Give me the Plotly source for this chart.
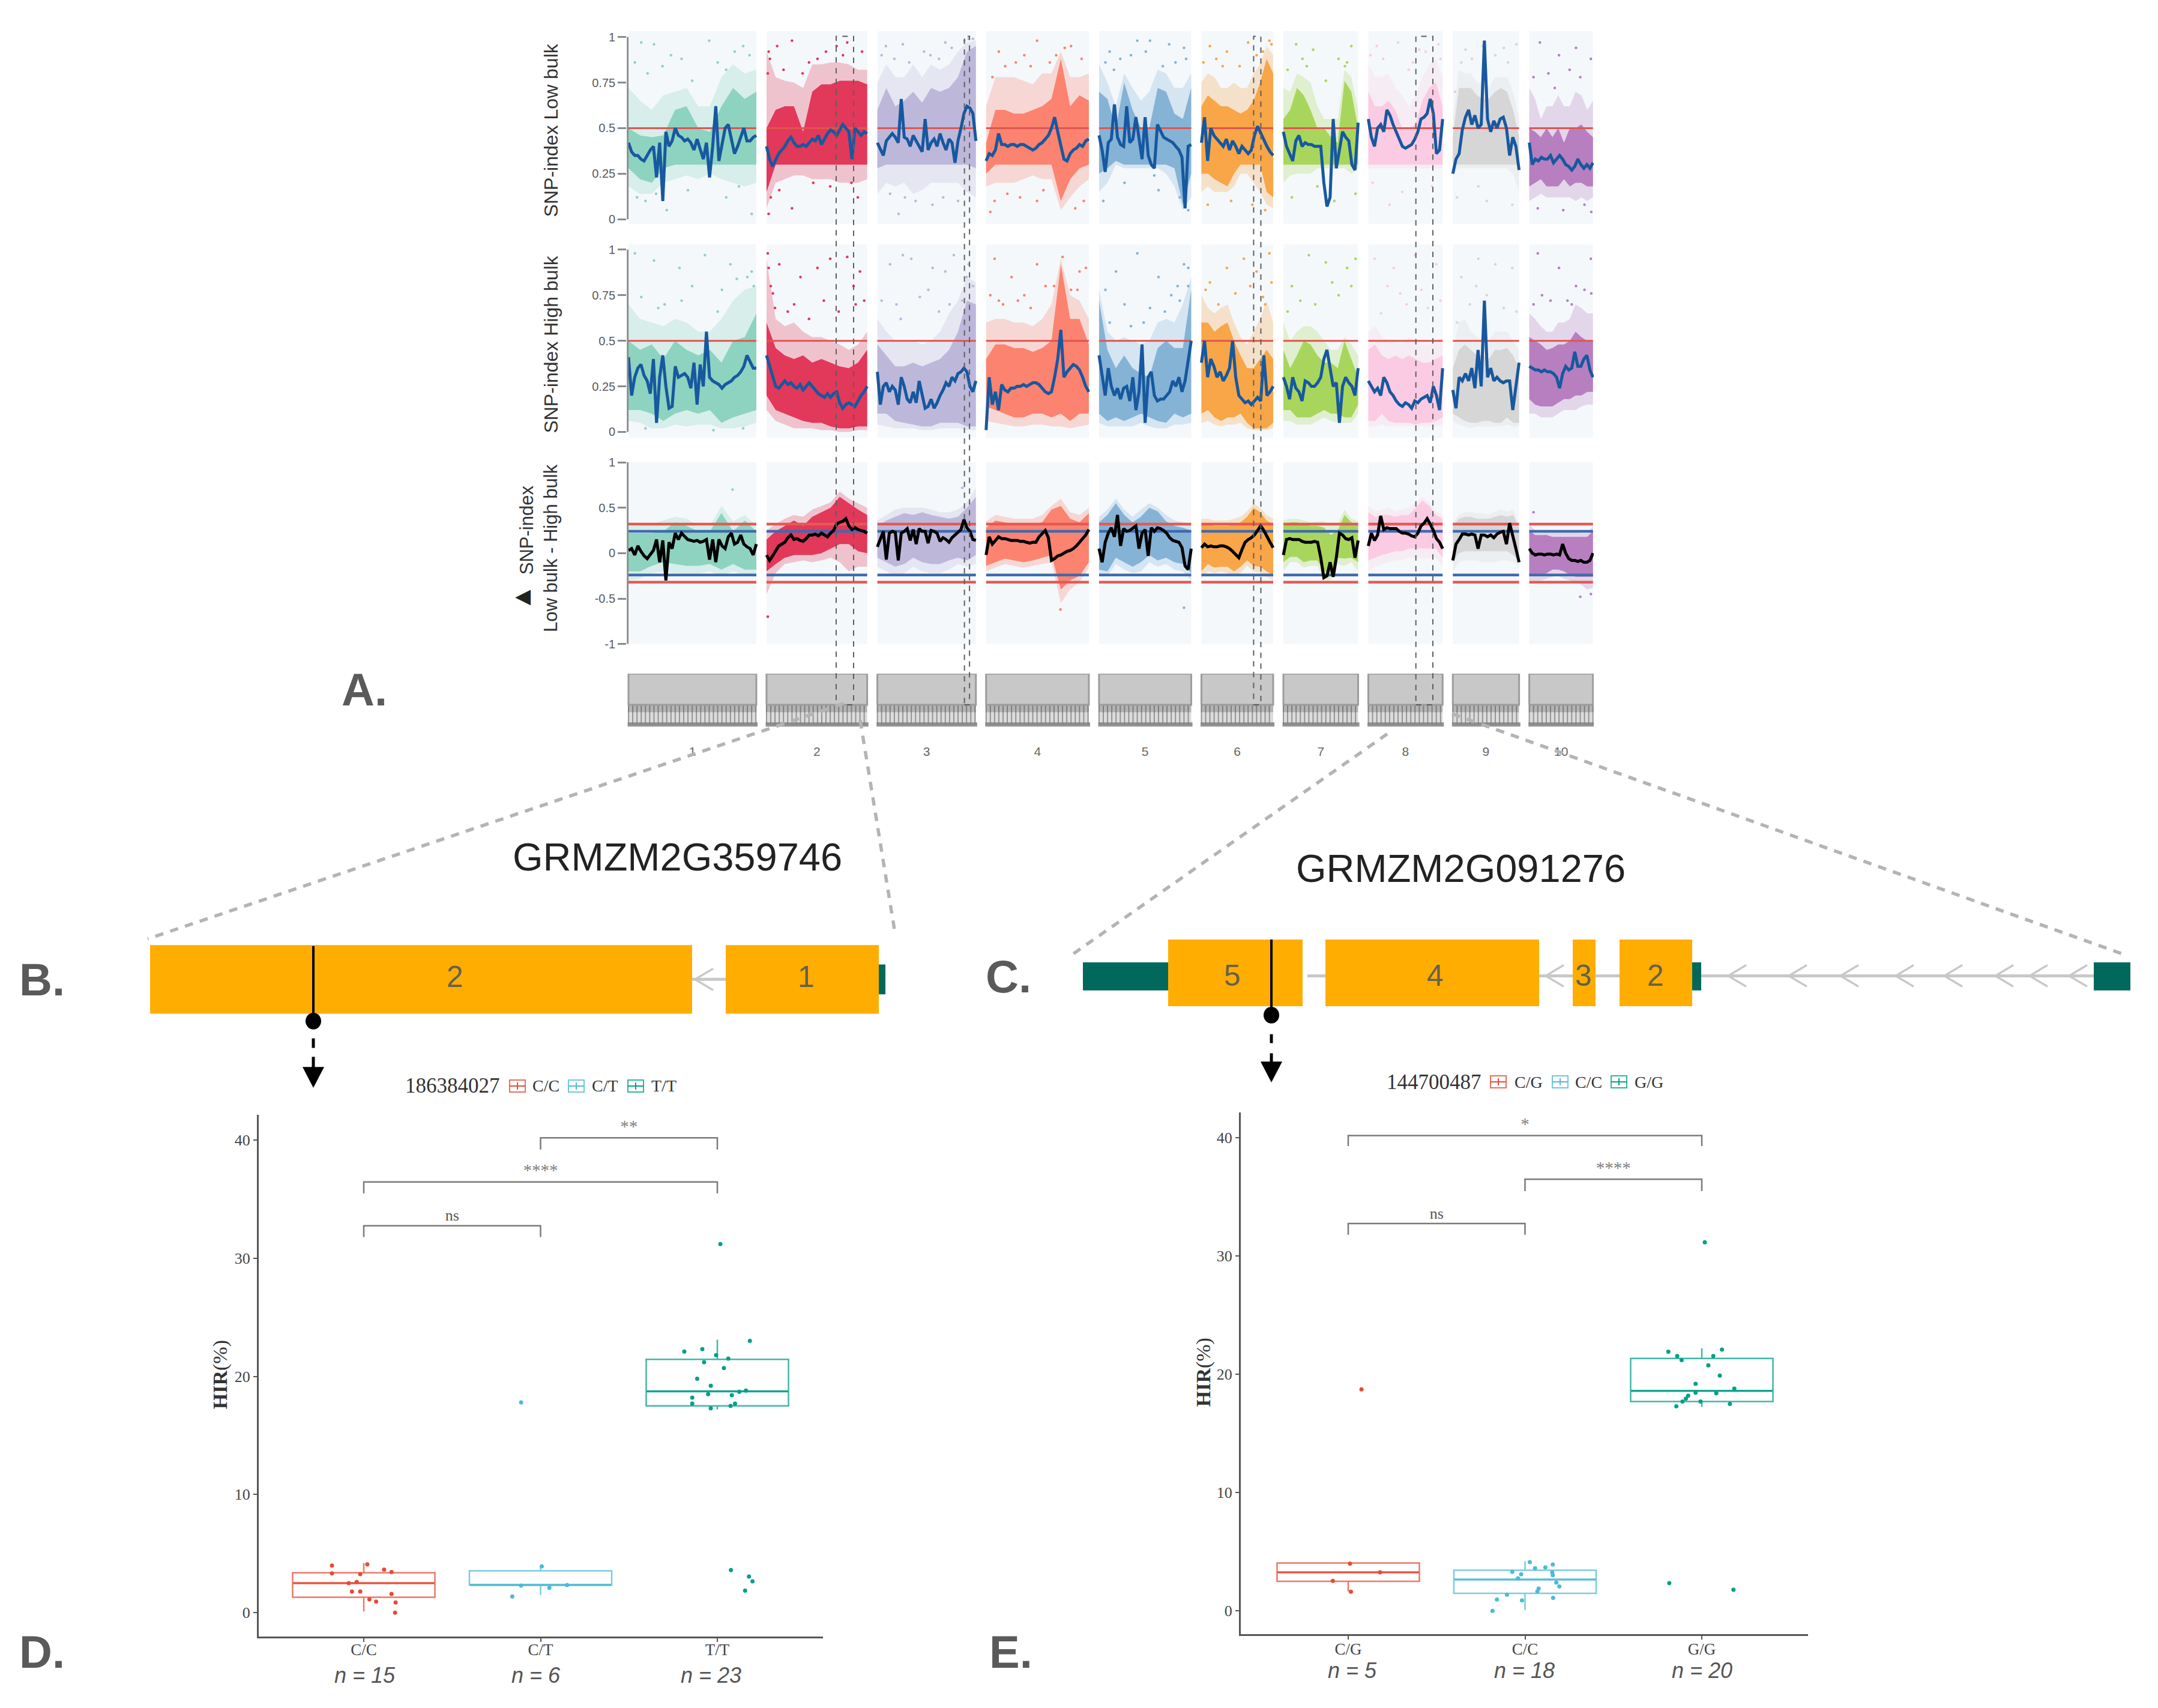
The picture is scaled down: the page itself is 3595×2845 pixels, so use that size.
import numpy as np
import plotly.graph_objects as go

W, H = 3595, 2845
chrom_names = ["1", "2", "3", "4", "5", "6", "7", "8", "9", "10"]
chrom_len = [301, 237, 232, 242, 217, 169, 176, 175, 156, 150]
chrom_color = ["#8DD3C0", "#E2385A", "#BDB8DA", "#FB8370", "#85B3D6", "#F8A648", "#A8D65C", "#FBCBE3", "#D6D6D6", "#B77FC0"]
marked_regions = [(1, 164, 205), (2, 205, 217), (5, 123, 140), (7, 112, 152)]

low_line = [
 [.42,.37,.35,.35,.33,.32,.35,.38,.40,.23,.42,.10,.48,.40,.43,.50,.46,.45,.43,.44,.42,.38,.44,.38,.33,.42,.23,.40,.62,.32,.42,.50,.52,.44,.36,.40,.45,.50,.43,.43,.45,.46],
 [.40,.33,.29,.33,.36,.38,.40,.43,.45,.42,.40,.40,.41,.40,.42,.44,.43,.46,.41,.44,.47,.49,.48,.46,.49,.52,.50,.48,.33,.50,.48,.46,.48,.47],
 [.42,.38,.35,.43,.45,.47,.45,.42,.66,.45,.44,.40,.46,.43,.40,.37,.55,.38,.42,.44,.40,.47,.42,.38,.44,.42,.31,.43,.50,.58,.62,.61,.58,.43],
 [.32,.36,.35,.38,.47,.41,.41,.40,.41,.41,.40,.41,.41,.40,.39,.38,.39,.41,.42,.44,.46,.50,.56,.48,.40,.33,.32,.36,.38,.39,.41,.40,.43,.44],
 [.46,.38,.26,.42,.44,.63,.45,.41,.40,.62,.42,.44,.56,.45,.33,.56,.35,.30,.28,.52,.48,.45,.44,.43,.42,.40,.38,.34,.06,.40,.41],
 [.42,.56,.32,.50,.46,.44,.42,.40,.44,.38,.43,.40,.36,.40,.38,.36,.38,.46,.51,.47,.43,.40,.37,.35],
 [.48,.40,.36,.32,.43,.46,.40,.42,.41,.41,.40,.40,.40,.20,.07,.12,.55,.28,.38,.48,.45,.43,.30,.27,.53],
 [.55,.45,.40,.50,.52,.48,.60,.57,.52,.48,.44,.40,.39,.40,.41,.44,.48,.55,.56,.58,.66,.58,.36,.38,.55],
 [.25,.33,.36,.49,.56,.60,.52,.57,.50,.52,.98,.55,.48,.54,.50,.55,.56,.50,.35,.45,.40,.27],
 [.42,.30,.33,.32,.34,.33,.33,.35,.31,.33,.35,.33,.30,.29,.27,.29,.33,.30,.28,.30,.28,.31],
]
high_line = [
 [.41,.20,.30,.35,.37,.31,.28,.21,.40,.05,.30,.42,.25,.13,.14,.36,.30,.31,.32,.30,.24,.38,.15,.37,.25,.55,.30,.28,.27,.26,.24,.26,.27,.28,.30,.31,.33,.36,.42,.38,.35,.35],
 [.42,.36,.30,.25,.24,.26,.28,.26,.27,.25,.24,.26,.23,.25,.27,.25,.23,.21,.20,.19,.21,.19,.21,.22,.16,.13,.15,.16,.15,.14,.17,.20,.22,.25],
 [.33,.15,.25,.27,.22,.25,.23,.15,.30,.25,.18,.16,.22,.16,.28,.20,.13,.14,.18,.13,.16,.20,.23,.27,.25,.30,.28,.32,.33,.35,.33,.25,.22,.28],
 [.01,.30,.15,.22,.12,.26,.23,.22,.24,.24,.25,.25,.26,.25,.26,.27,.27,.26,.24,.22,.21,.22,.30,.40,.56,.30,.33,.35,.37,.36,.34,.30,.25,.22],
 [.42,.30,.20,.35,.25,.20,.24,.18,.24,.25,.17,.30,.12,.22,.48,.05,.30,.33,.20,.17,.18,.18,.20,.22,.28,.25,.30,.22,.28,.40,.50],
 [.38,.50,.30,.40,.36,.30,.33,.28,.31,.35,.50,.30,.20,.18,.16,.17,.15,.17,.19,.17,.42,.20,.22,.25],
 [.30,.25,.18,.30,.24,.22,.17,.28,.27,.25,.25,.27,.30,.40,.45,.35,.25,.27,.05,.25,.30,.27,.25,.20,.35],
 [.28,.25,.22,.24,.20,.30,.27,.22,.20,.17,.15,.14,.16,.15,.13,.17,.16,.18,.19,.20,.16,.25,.20,.12,.35],
 [.23,.13,.30,.28,.32,.28,.35,.24,.45,.25,.72,.30,.35,.28,.30,.28,.27,.28,.28,.12,.25,.38],
 [.36,.35,.34,.34,.33,.34,.33,.33,.32,.30,.24,.32,.36,.34,.35,.44,.36,.36,.40,.42,.34,.30],
]
delta_line = [
 [.03,.05,-.02,.08,.02,-.03,-.06,-.02,.03,.15,-.10,.14,-.30,.12,.05,.22,.15,.22,.18,.15,.14,.13,.14,.12,.13,.15,-.07,.15,-.10,.15,.08,.05,.18,.22,.10,.12,.20,.10,.07,.05,-.02,.10],
 [-.02,-.08,-.03,.03,.08,.10,.12,.17,.20,.15,.16,.14,.13,.16,.20,.20,.21,.19,.22,.20,.18,.22,.25,.32,.34,.35,.38,.30,.26,.28,.26,.25,.24,.22],
 [.07,.15,.24,-.07,.22,.24,.23,-.08,.22,.24,.27,.14,.26,.10,.27,.24,.24,.11,.25,.24,.22,.13,.17,.15,.12,.17,.20,.23,.26,.37,.28,.24,.15,.14],
 [-.02,.18,.10,.14,.18,.16,.16,.15,.14,.14,.14,.13,.13,.12,.11,.12,.12,.18,.22,.25,.17,-.08,-.06,-.03,-.02,.00,.02,.03,.05,.08,.12,.15,.20,.26],
 [.05,-.10,.12,.22,.28,.18,.42,.08,.27,.24,.25,.28,.30,.05,.22,.26,-.03,.28,.24,.28,.27,.25,.22,.17,.14,.13,.12,.06,-.14,-.18,.05],
 [.06,.10,.07,.08,.07,.07,.08,.08,.07,.05,.02,-.02,-.05,.04,.12,.15,.17,.20,.25,.30,.25,.18,.12,.06],
 [-.02,.15,.16,.15,.15,.15,.13,.12,.12,.12,.13,.12,-.05,-.27,-.25,-.10,-.26,-.05,.22,.20,.16,.15,.17,-.05,.14],
 [.08,.22,.14,.20,.41,.26,.28,.27,.27,.27,.24,.22,.22,.21,.19,.18,.22,.30,.33,.38,.32,.25,.16,.12,.05],
 [-.08,.10,.15,.21,.21,.20,.21,.20,.05,.20,.20,.18,.20,.17,.21,.23,.24,.10,.33,.20,.05,-.10],
 [.05,.00,-.02,-.01,-.01,-.02,-.01,-.01,-.02,-.01,-.02,.10,.00,-.06,-.08,-.08,-.09,-.08,-.10,-.10,-.08,.00],
]

low_core_top = [[.50,.46,.45,.46,.60,.62,.50,.48,.62,.72,.66,.70],[.50,.60,.62,.62,.48,.70,.74,.74,.76,.76,.76,.74],[.60,.72,.62,.65,.70,.64,.72,.70,.72,.78,.92,.95],[.42,.60,.60,.58,.58,.60,.62,.66,.88,.62,.68,.65],[.70,.66,.50,.75,.60,.50,.50,.72,.70,.58,.55,.72],[.62,.68,.65,.62,.62,.60,.58,.60,.65,.75,.88,.80],[.55,.60,.72,.68,.60,.50,.50,.45,.42,.76,.70,.50],[.70,.62,.62,.65,.60,.50,.50,.52,.65,.72,.75,.62],[.45,.72,.72,.72,.68,.66,.66,.70,.72,.70,.60,.45],[.50,.48,.45,.50,.45,.50,.42,.50,.50,.52,.48,.45]]
low_core_bot = [[.28,.22,.20,.28,.30,.30,.30,.30,.30,.30,.30,.30],[.15,.30,.30,.30,.30,.30,.30,.30,.30,.30,.30,.30],[.28,.30,.30,.30,.30,.30,.30,.30,.30,.30,.30,.28],[.25,.30,.30,.30,.30,.30,.30,.30,.10,.22,.28,.30],[.25,.28,.32,.30,.30,.30,.30,.30,.30,.28,.08,.25],[.25,.25,.22,.20,.18,.25,.30,.30,.30,.30,.15,.12],[.30,.30,.30,.30,.30,.30,.30,.30,.30,.30,.30,.30],[.30,.30,.30,.30,.30,.30,.30,.30,.30,.30,.30,.30],[.30,.30,.30,.30,.30,.30,.30,.30,.30,.30,.30,.30],[.18,.20,.22,.18,.18,.18,.22,.18,.20,.20,.18,.18]]
low_halo_top = [[.72,.65,.60,.68,.70,.72,.62,.62,.78,.85,.80,.82],[.92,.78,.76,.75,.72,.85,.85,.86,.86,.85,.82,.82],[.75,.85,.78,.78,.85,.78,.85,.82,.85,.92,.97,.98],[.62,.78,.78,.78,.76,.74,.80,.80,.92,.78,.78,.80],[.85,.75,.62,.80,.72,.65,.70,.82,.80,.72,.72,.80],[.75,.80,.78,.72,.72,.75,.72,.72,.80,.85,.95,.90],[.72,.70,.80,.78,.75,.62,.55,.55,.55,.82,.78,.60],[.85,.78,.78,.80,.72,.68,.62,.68,.78,.85,.88,.78],[.55,.82,.80,.80,.75,.75,.72,.78,.78,.78,.70,.55],[.72,.66,.55,.62,.62,.68,.62,.62,.70,.68,.60,.65]]
low_halo_bot = [[.18,.14,.14,.20,.22,.24,.22,.25,.22,.20,.18,.20],[.06,.20,.22,.24,.24,.22,.22,.22,.20,.20,.20,.22],[.14,.20,.18,.20,.14,.16,.20,.20,.20,.20,.15,.12],[.18,.20,.20,.20,.22,.24,.22,.22,.05,.12,.18,.22],[.15,.20,.30,.28,.28,.28,.28,.28,.25,.18,.05,.12],[.15,.18,.15,.15,.15,.18,.25,.25,.20,.15,.08,.06],[.20,.24,.25,.25,.25,.28,.28,.28,.28,.28,.25,.28],[.28,.28,.28,.28,.28,.28,.28,.28,.28,.28,.28,.28],[.25,.28,.28,.28,.28,.28,.28,.28,.28,.28,.25,.15],[.10,.12,.14,.12,.12,.12,.12,.12,.10,.12,.10,.12]]

high_core_top = [[.50,.45,.48,.40,.50,.45,.42,.45,.38,.50,.52,.65],[.60,.46,.42,.40,.42,.38,.40,.38,.36,.35,.38,.45],[.48,.42,.36,.36,.38,.36,.38,.40,.45,.55,.72,.70],[.40,.48,.48,.46,.46,.44,.46,.50,.92,.62,.62,.48],[.72,.45,.35,.42,.35,.32,.30,.46,.50,.46,.46,.78],[.60,.60,.55,.58,.60,.50,.42,.35,.35,.40,.45,.40],[.45,.35,.42,.50,.48,.42,.38,.38,.35,.50,.40,.30],[.45,.48,.42,.40,.42,.40,.42,.40,.38,.38,.40,.42],[.35,.45,.48,.45,.42,.42,.40,.45,.45,.46,.42,.35],[.52,.50,.48,.45,.46,.48,.48,.50,.55,.52,.50,.50]]
high_core_bot = [[.12,.12,.10,.06,.10,.12,.10,.12,.05,.08,.10,.12],[.20,.12,.10,.08,.06,.05,.05,.03,.02,.02,.03,.03],[.10,.10,.06,.05,.04,.03,.03,.05,.05,.05,.03,.03],[.14,.12,.10,.08,.08,.10,.10,.08,.10,.06,.10,.10],[.10,.06,.08,.06,.08,.10,.08,.06,.05,.10,.08,.10],[.10,.12,.08,.06,.08,.08,.10,.05,.02,.02,.02,.05],[.12,.12,.08,.08,.08,.10,.12,.10,.10,.08,.08,.15],[.06,.06,.10,.06,.05,.05,.05,.04,.05,.05,.06,.08],[.10,.08,.06,.05,.05,.06,.06,.05,.05,.08,.05,.05],[.18,.15,.14,.14,.14,.16,.18,.18,.20,.20,.22,.22]]
high_halo_top = [[.70,.62,.60,.58,.62,.60,.55,.55,.62,.72,.78,.80],[.95,.62,.58,.60,.55,.52,.52,.50,.48,.45,.48,.55],[.62,.55,.50,.50,.50,.48,.50,.55,.65,.72,.85,.82],[.60,.62,.62,.60,.60,.58,.62,.70,.95,.75,.72,.62],[.78,.55,.50,.52,.50,.48,.50,.60,.62,.60,.70,.85],[.75,.68,.65,.68,.70,.60,.52,.48,.55,.62,.72,.60],[.60,.50,.55,.58,.58,.55,.50,.45,.45,.52,.48,.42],[.55,.58,.52,.50,.50,.48,.52,.50,.48,.48,.50,.52],[.45,.60,.62,.55,.52,.50,.50,.55,.55,.55,.50,.45],[.65,.62,.58,.55,.55,.60,.60,.62,.70,.68,.65,.65]]
high_halo_bot = [[.06,.05,.02,.02,.04,.03,.04,.04,.02,.02,.03,.05],[.12,.06,.04,.02,.02,.02,.01,.01,.00,.00,.01,.01],[.04,.03,.02,.02,.02,.01,.01,.02,.02,.02,.01,.01],[.06,.05,.04,.03,.03,.04,.04,.03,.03,.02,.03,.04],[.05,.03,.03,.03,.03,.05,.03,.02,.02,.04,.04,.05],[.05,.06,.04,.03,.04,.04,.05,.02,.01,.01,.01,.02],[.06,.06,.04,.04,.04,.06,.08,.06,.05,.05,.05,.10],[.03,.03,.04,.03,.03,.03,.03,.03,.03,.03,.03,.04],[.06,.04,.03,.02,.03,.03,.03,.03,.03,.04,.03,.03],[.10,.10,.08,.08,.08,.10,.12,.12,.12,.14,.15,.15]]

delta_core_top = [[.22,.22,.22,.24,.34,.30,.24,.24,.44,.24,.36,.24],[.15,.24,.30,.36,.30,.40,.45,.50,.62,.55,.48,.42],[.30,.36,.40,.44,.42,.45,.42,.40,.38,.40,.50,.62],[.28,.36,.34,.32,.32,.32,.34,.48,.52,.38,.34,.44],[.34,.42,.55,.42,.34,.40,.50,.46,.35,.30,.28,.25],[.32,.32,.30,.30,.30,.32,.34,.40,.50,.45,.36,.32],[.30,.34,.34,.32,.30,.30,.28,.20,.25,.42,.34,.30],[.45,.40,.42,.42,.40,.42,.42,.50,.58,.52,.42,.38],[.30,.38,.40,.40,.38,.38,.38,.40,.42,.40,.42,.28],[.25,.20,.20,.20,.18,.18,.18,.18,.18,.18,.18,.24]]
delta_core_bot = [[-.20,-.20,-.14,-.10,-.12,-.14,-.14,-.12,-.18,-.12,-.18,-.18],[-.20,-.12,-.05,-.02,-.02,-.02,.00,.05,.10,.10,.02,.00],[-.05,-.10,-.15,-.12,-.05,-.10,-.12,-.12,-.08,-.05,-.08,-.02],[-.14,-.10,-.06,-.08,-.10,-.08,-.05,-.02,-.40,-.30,-.25,-.10],[-.18,-.20,-.05,-.10,-.15,-.10,-.02,-.08,-.05,-.10,-.12,-.22],[-.20,-.12,-.16,-.15,-.15,-.20,-.15,-.08,-.14,-.15,-.20,-.24],[-.10,-.04,-.04,-.10,-.08,-.08,-.20,-.22,-.05,-.06,-.05,-.10],[-.08,-.05,-.02,.00,.02,.02,.05,.05,.05,.05,.05,-.05],[-.10,.00,.02,.02,.02,.02,.02,.02,.02,.02,-.02,-.08],[-.25,-.24,-.24,-.22,-.18,-.18,-.20,-.24,-.26,-.26,-.26,-.26]]
delta_halo_top = [[.30,.30,.32,.36,.40,.38,.30,.30,.52,.35,.42,.30],[.25,.32,.38,.42,.40,.48,.52,.56,.68,.60,.55,.50],[.36,.42,.48,.50,.50,.50,.48,.45,.45,.48,.56,.72],[.35,.42,.40,.38,.38,.38,.42,.52,.60,.45,.42,.50],[.40,.48,.60,.48,.40,.48,.55,.50,.42,.36,.34,.32],[.38,.38,.36,.36,.36,.38,.40,.46,.55,.50,.42,.38],[.36,.38,.38,.36,.34,.35,.35,.30,.32,.48,.38,.35],[.52,.46,.48,.50,.46,.48,.50,.56,.62,.56,.46,.42],[.34,.42,.45,.45,.44,.44,.42,.46,.48,.46,.48,.32],[.32,.25,.25,.25,.24,.24,.24,.25,.25,.22,.22,.30]]
delta_halo_bot = [[-.30,-.28,-.22,-.20,-.22,-.22,-.22,-.20,-.25,-.20,-.25,-.25],[-.45,-.22,-.12,-.10,-.08,-.10,-.08,-.05,-.10,-.20,-.15,-.15],[-.15,-.20,-.25,-.22,-.15,-.20,-.22,-.22,-.18,-.12,-.15,-.12],[-.20,-.16,-.12,-.14,-.16,-.14,-.12,-.10,-.55,-.40,-.32,-.16],[-.25,-.25,-.12,-.18,-.22,-.20,-.10,-.15,-.12,-.18,-.20,-.30],[-.28,-.20,-.22,-.20,-.22,-.26,-.22,-.14,-.20,-.22,-.26,-.30],[-.20,-.10,-.10,-.16,-.14,-.14,-.30,-.30,-.12,-.14,-.10,-.20],[-.20,-.15,-.12,-.10,-.08,-.08,-.05,-.05,-.06,-.06,-.05,-.15],[-.20,-.10,-.08,-.08,-.08,-.10,-.10,-.10,-.08,-.08,-.10,-.15],[-.30,-.30,-.30,-.28,-.26,-.25,-.28,-.30,-.32,-.35,-.40,-.38]]

low_dot_pos = [[30,60,100,190,230,270,40,90,230,290,15,45,80,125,150,210,250,285,20,65,140,260],[5,60,120,190,10,60,200,215,150,5,25,40,85,100,140,165,180,225,30,110,3,8],[20,60,110,160,30,90,130,190,215,50,10,40,75,125,145,175,205,225,65,155],[30,70,120,200,20,50,120,210,10,230,15,45,90,105,150,165,185,225,80,135],[25,120,165,200,10,60,190,140,90,210,15,35,50,75,110,150,180,205,130],[20,60,110,160,15,70,120,150,5,35,50,90,130,145,165],[30,70,130,160,20,80,120,170,10,45,55,100,145,150],[20,70,120,165,10,80,150,50,5,35,95,105,135,170],[30,70,120,150,10,80,140,60,20,45,100,130,5],[25,70,110,145,20,80,130,146,10,45,60,95,120]]
low_dot_val = [[.97,.96,.9,.98,.82,.95,.1,.05,.12,.03,.86,.8,.84,.88,.76,.86,.92,.9,.12,.14,.16,.18],[.92,.98,.88,.97,.12,.06,.2,.12,.18,.03,.95,.82,.8,.86,.92,.95,.9,.92,.16,.2,.8,.88],[.95,.96,.92,.97,.14,.1,.08,.1,.99,.03,.9,.88,.86,.9,.88,.94,.98,.99,.12,.12],[.92,.86,.98,.95,.1,.14,.1,.06,.04,.1,.78,.84,.9,.84,.86,.9,.94,.88,.12,.16],[.92,.98,.96,.94,.1,.2,.12,.16,.98,.05,.86,.82,.88,.9,.92,.84,.86,.88,.24],[.95,.92,.97,.98,.08,.1,.08,.05,.86,.88,.84,.84,.9,.92,.96],[.96,.93,.88,.95,.12,.18,.1,.14,.82,.88,.84,.76,.84,.86],[.95,.97,.93,.96,.2,.15,.18,.08,.9,.88,.82,.86,.92,.88],[.93,.95,.94,.96,.12,.1,.08,.18,.86,.88,.9,.86,.7],[.97,.9,.94,.88,.06,.05,.08,.04,.78,.8,.72,.82,.78]]
high_dot_pos = [[15,60,120,180,240,280,40,200,270,295,30,85,150,220,255,290,70,125,210],[3,30,80,150,190,220,5,10,120,210,15,50,65,100,135,170,205,230,20],[30,80,130,180,210,225,60,160,215,120,10,45,100,145,200,55,170],[20,60,120,180,220,235,90,160,200,10,40,75,105,140,175,215,30],[40,90,140,170,200,210,15,120,60,190,25,105,155,185,75,210],[20,60,100,130,160,40,150,10,80,115,145,165],[20,60,100,150,170,130,40,10,75,115,160],[15,60,110,160,30,90,140,45,75,125,170],[20,60,100,140,40,120,80,10,55,150],[20,70,110,145,30,90,130,10,50,100,146]]
high_dot_val = [[.98,.94,.9,.97,.92,.85,.02,.01,.02,.8,.74,.7,.8,.78,.84,.88,.68,.72,.66],[.98,.92,.85,.95,.96,.88,.9,.8,.9,.7,.76,.66,.7,.62,.72,.66,.8,.72,.68],[.92,.95,.9,.97,.85,.8,.97,.88,.92,.78,.72,.7,.74,.66,.72,.62,.7],[.95,.85,.92,.96,.88,.9,.75,.8,.78,.75,.7,.72,.68,.8,.76,.78,.72],[.88,.98,.85,.75,.92,.9,.78,.68,.7,.72,.6,.6,.66,.8,.58,.8],[.82,.9,.95,.88,.98,.7,.7,.78,.76,.8,.74,.82],[.8,.97,.93,.9,.95,.75,.72,.66,.7,.82,.8],[.95,.9,.97,.92,.65,.7,.68,.8,.76,.78,.72],[.85,.95,.92,.9,.7,.68,.75,.6,.8,.66],[.98,.9,.8,.95,.75,.72,.78,.7,.72,.7,.76]]
delta_dot_pos = [[245],[3],[200],[175],[200],[],[],[],[],[10,120,145]]
delta_dot_val = [[.7],[-.7],[.72],[-.62],[-.6],[],[],[],[],[.45,-.48,-.45]]

mid_line = 0.5
thresholds = [(.32, "#E35A55"), (.24, "#3F6AAE"), (-.24, "#3F6AAE"), (-.32, "#E35A55")]

gene_b_cds_start, gene_b_cds_end = [0, 959], [903, 1214]
gene_b_utr_start, gene_b_utr_end = [1211], [1225]
gene_b_intron = [(903, 959)]
gene_b_chevrons = [908]
gene_b_labels, gene_b_label_pos = ["2", "1"], [508, 1093]

gene_c_cds_start, gene_c_cds_end = [142, 404, 816, 894], [366, 760, 854, 1015]
gene_c_utr_start, gene_c_utr_end = [0, 1015, 1684], [142, 1030, 1745]
gene_c_intron = [(374, 404), (760, 816), (854, 894), (1030, 1684)]
gene_c_chevrons = [771, 1075, 1176, 1262, 1354, 1435, 1520, 1577, 1643]
gene_c_labels, gene_c_label_pos = ["5", "4", "3", "2"], [249, 587, 834, 954]

npg = ["#E64B35", "#4DBBD5", "#00A087"]
d_cats = ["C/C", "C/T", "T/T"]
d_counts = ["n = 15", "n = 6", "n = 23"]
d_q1, d_med, d_q3 = [1.3, 2.33, 17.5], [2.5, 2.33, 18.73], [3.37, 3.54, 21.44]
d_low, d_high = [0.1, 1.5, 17.2], [4.2, 4.0, 23.1]
d_x = [[-.18,-.18,.02,-.02,-.04,-.085,.115,.157,-.067,-.02,.157,.032,.07,.18,.177],
       [-.11,.007,-.11,.05,.15,-.16],
       [.017,.184,-.187,-.085,-.007,.062,-.075,.037,-.114,-.037,-.142,-.052,.082,.162,.124,-.142,.1,-.037,.075,.077,.179,.199,.157]]
d_y = [[3.99,3.33,4.09,3.26,2.6,2.5,3.64,3.44,1.79,1.79,1.58,1.13,.93,.86,0],
       [17.8,3.92,2.3,2.1,2.33,1.37],
       [31.2,23.0,22.1,22.3,21.8,21.5,21.2,20.7,19.8,19.2,18.2,18.5,18.4,18.8,18.7,17.7,17.7,17.3,17.5,3.6,3.06,2.65,1.86]]
d_brackets = [(0, 1, 32.75, 31.8, "ns"), (0, 2, 36.46, 35.5, "****"), (1, 2, 40.2, 39.2, "**")]

e_cats = ["C/G", "C/C", "G/G"]
e_counts = ["n = 5", "n = 18", "n = 20"]
e_q1, e_med, e_q3 = [2.5, 1.48, 17.7], [3.26, 2.65, 18.6], [4.05, 3.44, 21.34]
e_low, e_high = [1.65, 0.07, 17.25], [4.05, 4.2, 22.2]
e_x = [[.075,.01,.18,-.087,.015],
       [.027,.057,.115,.157,-.072,.154,.157,-.022,-.04,.177,.194,.077,.07,-.102,-.159,-.017,.159,-.184],
       [.017,-.189,.114,-.139,.065,-.114,.037,.102,-.035,-.035,.184,.082,-.077,-.09,-.007,-.109,.159,-.144,-.184,.179]]
e_y = [[18.73,3.99,3.26,2.54,1.62],
       [4.12,3.6,3.68,3.92,3.3,3.26,3.02,3.09,2.75,2.4,2.06,1.89,1.65,1.37,.96,.89,1.1,0],
       [31.17,21.92,22.1,21.55,21.55,21.2,20.76,19.9,19.2,18.45,18.8,18.4,18.2,17.94,17.7,17.7,17.5,17.3,2.34,1.79]]
e_brackets = [(0, 1, 32.75, 31.8, "ns"), (1, 2, 36.5, 35.5, "****"), (0, 2, 40.2, 39.3, "*")]

SANS, SERIF = "Liberation Sans", "Liberation Serif"
GAP = 24
SCALE = 0.7075
LEFT_PX = 1047
XMIN, XAX = -4, -2
starts = [int(sum(chrom_len[:i]) + GAP * i) for i in range(10)]
TOTAL = starts[-1] + chrom_len[-1]


def fx(p):
    return p / W


def fy(p):
    return 1 - p / H


def ydom(top, bot):
    return [1 - bot / H, 1 - top / H]


def yrange(px0, px_per, top, bot):
    return [(px0 - bot) / px_per, (px0 - top) / px_per]


fig = go.Figure()
shapes, anns = [], []


def band(xs, top, bot, color, op, xa, ya):
    fig.add_trace(go.Scatter(x=list(xs) + list(xs)[::-1], y=list(top) + list(bot)[::-1], mode="lines",
                             fill="toself", fillcolor=color, opacity=op, line=dict(width=0),
                             hoverinfo="skip", showlegend=False, xaxis=xa, yaxis=ya))


def seg(xs, ys, color, width, xa, ya, dash=None, op=1):
    fig.add_trace(go.Scatter(x=xs, y=ys, mode="lines", line=dict(color=color, width=width, dash=dash),
                             opacity=op, hoverinfo="skip", showlegend=False, xaxis=xa, yaxis=ya))


rows = [
    ("y", low_line, low_core_top, low_core_bot, low_halo_top, low_halo_bot, low_dot_pos, low_dot_val, "#17589F", 1.033, -.026),
    ("y2", high_line, high_core_top, high_core_bot, high_halo_top, high_halo_bot, high_dot_pos, high_dot_val, "#17589F", 1.03, -.033),
    ("y3", delta_line, delta_core_top, delta_core_bot, delta_halo_top, delta_halo_bot, delta_dot_pos, delta_dot_val, "#000000", 1.0, -1.0),
]
for ya, line, ct, cb, ht, hb, dp, dv, lc, top, bot in rows:
    for i in range(10):
        s, L, c = starts[i], chrom_len[i], chrom_color[i]
        band([s, s + L], [top, top], [bot, bot], "#F4F8FB", 1, "x", ya)
        xs = s + np.linspace(0, L, len(ct[i]))
        band(xs, ht[i], hb[i], c, .28, "x", ya)
        band(xs, ct[i], cb[i], c, 1, "x", ya)
        fig.add_trace(go.Scatter(x=s + np.array(dp[i], float), y=dv[i], mode="markers",
                                 marker=dict(color=c, size=4.5), hoverinfo="skip", showlegend=False, xaxis="x", yaxis=ya))
        if ya == "y3":
            for v, col in thresholds:
                seg([s, s + L], [v, v], col, 4.5, "x", ya)
        else:
            seg([s, s + L], [mid_line, mid_line], "#E0554F", 3, "x", ya)
        seg(s + np.linspace(0, L, len(line[i])), line[i], lc, 5, "x", ya)

# left axis lines of panel A
seg([XAX, XAX], [0, 1], "#8A8A8A", 3, "x", "y")
seg([XAX, XAX], [0, 1], "#8A8A8A", 3, "x", "y2")
seg([XAX, XAX], [-1, 1], "#8A8A8A", 3, "x", "y3")

# ideogram
BOX_TOP, BOX_BOT, TICK_MID, TICK_BOT = 1.0, .422, .28, .056
for i in range(10):
    s, L = starts[i], chrom_len[i]
    band([s, s + L], [BOX_BOT] * 2, [TICK_MID] * 2, "#B4B4B4", 1, "x", "y4")
    band([s, s + L], [TICK_MID] * 2, [TICK_BOT] * 2, "#DCDCDC", 1, "x", "y4")
    tx, ty, tx2, ty2 = [], [], [], []
    for m in np.arange(0, L + 1, 10):
        tx += [s + m, s + m, None]
        ty += [BOX_BOT, TICK_MID, None]
        tx2 += [s + m, s + m, None]
        ty2 += [TICK_MID, TICK_BOT, None]
    seg(tx2, ty2, "#8E8E8E", 1.8, "x", "y4")
    seg(tx, ty, "#7D7D7D", 2, "x", "y4")
    fig.add_trace(go.Scatter(x=[s, s + L, s + L, s, s], y=[BOX_BOT, BOX_BOT, BOX_TOP, BOX_TOP, BOX_BOT], mode="lines",
                             fill="toself", fillcolor="#C8C8C8", line=dict(color="#9C9C9C", width=3),
                             hoverinfo="skip", showlegend=False, xaxis="x", yaxis="y4"))
    seg([s - 2, s + L + 3], [TICK_BOT, TICK_BOT], "#808080", 7, "x", "y4", op=.85)


# genes
def gene(xa, ya, cds_s, cds_e, utr_s, utr_e, introns, chev, labels, lab_pos, cds_y, cds_h, utr_y, utr_h, lab_y):
    fig.add_trace(go.Bar(y=[utr_y] * len(utr_s), base=utr_s, x=[b - a for a, b in zip(utr_s, utr_e)], orientation="h",
                         width=utr_h, marker=dict(color="#00695C", line=dict(width=0)), hoverinfo="skip",
                         showlegend=False, xaxis=xa, yaxis=ya))
    fig.add_trace(go.Bar(y=[cds_y] * len(cds_s), base=cds_s, x=[b - a for a, b in zip(cds_s, cds_e)], orientation="h",
                         width=cds_h, marker=dict(color="#FFAD00", line=dict(width=0)), hoverinfo="skip",
                         showlegend=False, xaxis=xa, yaxis=ya))
    xs, ys = [], []
    for a, b in introns:
        xs += [a, b, None]
        ys += [0, 0, None]
    seg(xs, ys, "#C8C8C8", 5, xa, ya)
    xs, ys = [], []
    for c in chev:
        xs += [c + 30, c, c + 30, None]
        ys += [18, 0, -18, None]
    seg(xs, ys, "#C8C8C8", 3.5, xa, ya)
    fig.add_trace(go.Scatter(x=lab_pos, y=[lab_y] * len(lab_pos), mode="text", text=labels,
                             textfont=dict(size=50, color="#66604C", family=SANS), hoverinfo="skip",
                             showlegend=False, xaxis=xa, yaxis=ya))


gene("x2", "y5", gene_b_cds_start, gene_b_cds_end, gene_b_utr_start, gene_b_utr_end, gene_b_intron, gene_b_chevrons,
     gene_b_labels, gene_b_label_pos, 0, 115, 0, 50, 0)
gene("x3", "y6", gene_c_cds_start, gene_c_cds_end, gene_c_utr_start, gene_c_utr_end, gene_c_intron, gene_c_chevrons,
     gene_c_labels, gene_c_label_pos, 5, 112, -1, 47, -4)


# box panels
def panel(xa, ya, cats, q1, med, q3, low, high, px, py, brackets):
    for i in range(3):
        fig.add_trace(go.Box(x=[i], q1=[q1[i]], median=[med[i]], q3=[q3[i]], lowerfence=[low[i]], upperfence=[high[i]],
                             width=.805, whiskerwidth=0, fillcolor="rgba(0,0,0,0)", opacity=.75,
                             line=dict(color=npg[i], width=2.5), boxpoints=False, hoverinfo="skip",
                             showlegend=False, xaxis=xa, yaxis=ya))
        seg([i - .4, i + .4], [med[i], med[i]], npg[i], 3.5, xa, ya, op=.8)
        fig.add_trace(go.Scatter(x=[i + d for d in px[i]], y=py[i], mode="markers",
                                 marker=dict(color=npg[i], size=7), hoverinfo="skip", showlegend=False,
                                 xaxis=xa, yaxis=ya))
    for a, b, yv, tip, lab in brackets:
        seg([a, a, b, b], [tip, yv, yv, tip], "#7A7A7A", 2.5, xa, ya)
        fig.add_trace(go.Scatter(x=[(a + b) / 2], y=[yv + (.75 if lab == "ns" else .85)], mode="text", text=[lab],
                                 textposition="middle center",
                                 textfont=dict(size=26 if lab == "ns" else 29, color="#555555" if lab == "ns" else "#808080", family=SERIF),
                                 hoverinfo="skip", showlegend=False, xaxis=xa, yaxis=ya))


panel("x4", "y7", d_cats, d_q1, d_med, d_q3, d_low, d_high, d_x, d_y, d_brackets)
panel("x5", "y8", e_cats, e_q1, e_med, e_q3, e_low, e_high, e_x, e_y, e_brackets)


def ann(x, y, text, size, color="#444444", family=SANS, angle=0, xanchor="center"):
    anns.append(dict(x=fx(x), y=fy(y), xref="paper", yref="paper", text=text, showarrow=False, xanchor=xanchor,
                     yanchor="middle", textangle=angle, font=dict(size=size, color=color, family=family)))


def rect(x0, y0, x1, y1, **kw):
    shapes.append(dict(type="rect", xref="paper", yref="paper", x0=fx(x0), x1=fx(x1), y0=fy(y0), y1=fy(y1), **kw))


def pline(x0, y0, x1, y1, color, width, dash="solid"):
    shapes.append(dict(type="line", xref="paper", yref="paper", x0=fx(x0), x1=fx(x1), y0=fy(y0), y1=fy(y1),
                       line=dict(color=color, width=width, dash=dash)))


# panel A titles
ann(918, 208, "SNP-index Low bulk", 32, "#333333", angle=-90)
ann(918, 567, "SNP-index High bulk", 32, "#333333", angle=-90)
ann(918, 909, "Low bulk - High bulk", 31, "#333333", angle=-90)
ann(877, 879, "SNP-index", 31, "#333333", angle=-90)
ann(868, 992, "\u25B2", 44, "#222222", angle=-90)

# letters
for txt, x, y in [("A.", 607, 1146), ("B.", 70, 1633), ("C.", 1680, 1628), ("D.", 70, 2762), ("E.", 1684, 2762)]:
    ann(x, y, "<b>%s</b>" % txt, 76, "#5A5A5A")
ann(1128, 1428, "GRMZM2G359746", 65, "#222222")
ann(2433, 1447, "GRMZM2G091276", 65, "#222222")

# marked regions on the genome
for c, a, b in marked_regions:
    shapes.append(dict(type="rect", xref="x", yref="paper", x0=starts[c] + a, x1=starts[c] + b, y0=fy(1172), y1=fy(50),
                       line=dict(color="#5E5E5E", width=2, dash="dash"), fillcolor="rgba(0,0,0,0)"))

# zoom connectors
for a in [(1405, 1170, 246, 1565), (1433, 1198, 1491, 1555), (2311, 1221, 1788, 1590), (2419, 1187, 3535, 1590)]:
    pline(*a, "#B4B4B4", 5.5, "14px,12px")

# SNP pointers
for x, y0, y1, oval, d0, d1, a0, tip in [(522, 1577, 1690, 1703, 1732, 1748, 1763, 1815),
                                         (2118, 1566, 1680, 1693, 1725, 1740, 1757, 1806)]:
    pline(x, y0, x, y1, "#000000", 4)
    shapes.append(dict(type="circle", xref="paper", yref="paper", fillcolor="#000000", line=dict(width=0),
                       x0=fx(x - 13), x1=fx(x + 13), y0=fy(oval - 14), y1=fy(oval + 14)))
    pline(x, d0, x, d1, "#000000", 5)
    pline(x, a0, x, tip - 30, "#000000", 5)
    shapes.append(dict(type="path", xref="paper", yref="paper", fillcolor="#000000", line=dict(width=0),
                       path="M %f %f L %f %f L %f %f Z" % (fx(x - 18), fy(tip - 35), fx(x + 18), fy(tip - 35), fx(x), fy(tip))))


# legends over the box panels
def legend(title, title_x, y, items):
    ann(title_x, y, title, 35, "#333333", SERIF)
    for (key_x, txt_x, txt), col in zip(items, npg):
        rect(key_x, y - 10, key_x + 26, y + 10, line=dict(color=col, width=2), fillcolor="rgba(0,0,0,0)", opacity=.8)
        pline(key_x, y, key_x + 26, y, col, 2)
        pline(key_x + 13, y - 6, key_x + 13, y + 6, col, 2)
        ann(txt_x, y, txt, 28, "#333333", SERIF)


legend("186384027", 754, 1812, [(849, 909, "C/C"), (947, 1008, "C/T"), (1046, 1106, "T/T")])
legend("144700487", 2389, 1805, [(2483, 2546, "C/G"), (2586, 2646, "C/C"), (2684, 2747, "G/G")])

# axis titles and counts for the box panels
ann(367, 2297, "<b>HIR</b>(%)", 34, "#333333", SERIF, angle=-90)
ann(2005, 2292, "<b>HIR</b>(%)", 34, "#333333", SERIF, angle=-90)
for x, t in zip([608, 893, 1184], d_counts):
    ann(x, 2801, "<i>%s</i>" % t, 36, "#555555")
for x, t in zip([2253, 2539, 2835], e_counts):
    ann(x, 2793, "<i>%s</i>" % t, 36, "#555555")

gray = "#8A8A8A"
tick_font = dict(size=20, color="#5A5A5A", family=SANS)
layout = dict(
    width=W, height=H, margin=dict(l=0, r=0, t=0, b=0), paper_bgcolor="white", plot_bgcolor="white",
    showlegend=False, barmode="overlay", boxmode="overlay", shapes=shapes, annotations=anns,
    font=dict(family=SANS),
    xaxis=dict(domain=[fx(LEFT_PX + XMIN * SCALE), fx(LEFT_PX + (TOTAL + 2) * SCALE)], range=[XMIN, TOTAL + 2], anchor="y4",
               tickmode="array", tickvals=[s + l / 2 for s, l in zip(starts, chrom_len)], ticktext=chrom_names,
               ticks="outside", ticklen=21, tickcolor="rgba(0,0,0,0)", showgrid=False, zeroline=False, showline=False,
               tickfont=dict(size=21, color="#666666", family=SANS), tickangle=0),
)
for key, dom, rng, vals in [
    ("yaxis", (41, 365), yrange(357, 306, 41, 365), [0, .25, .5, .75, 1]),
    ("yaxis2", (399, 724), yrange(714, 306, 399, 724), [0, .25, .5, .75, 1]),
    ("yaxis3", (765, 1070), [-1.0, 1.0], [-1, -.5, 0, .5, 1]),
]:
    layout[key] = dict(domain=ydom(*dom), range=rng, anchor="x", tickmode="array", tickvals=vals,
                       ticktext=[("%g" % v) for v in vals], ticks="outside", ticklen=14, tickwidth=2.5, tickcolor=gray,
                       showgrid=False, zeroline=False, showline=False, tickfont=tick_font)
layout["yaxis4"] = dict(domain=ydom(1120, 1210), range=[0, 1], anchor="x", visible=False)

hide = dict(showgrid=False, zeroline=False, showline=False, showticklabels=False, ticks="")
layout["xaxis2"] = dict(domain=[fx(250), fx(1475)], range=[0, 1225], anchor="y5", **hide)
layout["yaxis5"] = dict(domain=ydom(1553, 1713), range=[-80, 80], anchor="x2", **hide)
layout["xaxis3"] = dict(domain=[fx(1804), fx(3549)], range=[0, 1745], anchor="y6", **hide)
layout["yaxis6"] = dict(domain=ydom(1547, 1707), range=[-80, 80], anchor="x3", **hide)

serif_tick = dict(size=26, color="#444444", family=SERIF)
for xk, yk, ax, yx, left, right, zero, px_unit, top, bottom, cats, c0, standoff in [
    ("xaxis4", "yaxis7", "y7", "x4", 431, 1371, 2696, 19.83, 1860, 2736, d_cats, 606, -10),
    ("xaxis5", "yaxis8", "y8", "x5", 2067, 3012, 2693, 19.85, 1856, 2732, e_cats, 2246, -7),
]:
    layout[xk] = dict(domain=[fx(left), fx(right)], range=[(left - c0) / 294.5, (right - c0) / 294.5], anchor=ax,
                      tickmode="array", tickvals=[0, 1, 2], ticktext=cats, ticks="outside", ticklen=6, tickwidth=2,
                      tickcolor="#555555", linecolor="#555555", linewidth=3, showline=True, showgrid=False,
                      zeroline=False, tickfont=dict(size=27, color="#444444", family=SERIF), ticklabelstandoff=standoff)
    layout[yk] = dict(domain=ydom(top, bottom), range=yrange(zero, px_unit, top, bottom), anchor=yx,
                      tickmode="array", tickvals=[0, 10, 20, 30, 40], ticks="outside", ticklen=6, tickwidth=2,
                      tickcolor="#555555", linecolor="#555555", linewidth=3, showline=True, showgrid=False,
                      zeroline=False, tickfont=serif_tick)

fig.update_layout(**layout)
fig.write_html("out.html", post_script="document.body.style.margin='0';", config={"displayModeBar": False})
